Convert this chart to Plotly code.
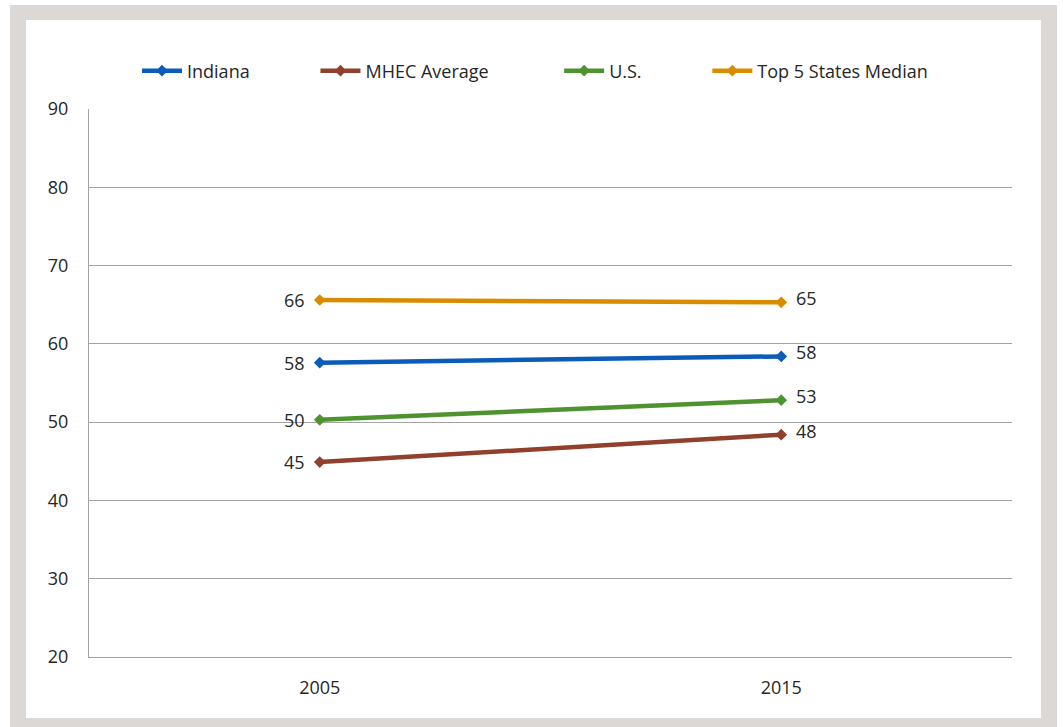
import plotly.graph_objects as go

years = ["2005", "2015"]
series_names = ["Indiana", "MHEC Average", "U.S.", "Top 5 States Median"]
indiana = [57.6, 58.4]
mhec = [44.9, 48.4]
us = [50.3, 52.8]
top5 = [65.6, 65.3]
label_indiana = ["58", "58"]
label_mhec = ["45", "48"]
label_us = ["50", "53"]
label_top5 = ["66", "65"]
y_ticks = [20, 30, 40, 50, 60, 70, 80, 90]

colors = ["#0a5cb8", "#90402d", "#4f9330", "#d98c00"]
values = [indiana, mhec, us, top5]
labels = [label_indiana, label_mhec, label_us, label_top5]

FONT = "Open Sans"
FS = 18
TXT = "#262626"
PADS = [13, 14, 13, 0]

fig = go.Figure()
for name, vals, col, pad in zip(series_names, values, colors, PADS):
    fig.add_trace(go.Scatter(
        x=years, y=vals, name=name + "\u00a0" * pad,
        mode="lines+markers",
        line=dict(color=col, width=4.5),
        marker=dict(symbol="diamond", size=9, color=col),
    ))

annotations = []
for vals, labs in zip(values, labels):
    for i, (v, t) in enumerate(zip(vals, labs)):
        annotations.append(dict(
            x=i, y=v, xref="x", yref="y", text=t, showarrow=False,
            xanchor="right" if i == 0 else "left",
            xshift=-13 if i == 0 else 13,
            yshift=0 if i == 0 else 4,
            font=dict(family=FONT, size=FS, color=TXT),
        ))

# frame (pixel -> paper conversion)
L, R, T, B = 89, 1012, 109, 657
def px(x):
    return (x - L) / (R - L)
def py(y):
    return (B - y) / (B - T)

shapes = [
    dict(type="rect", xref="paper", yref="paper", layer="below",
         x0=px(10), x1=px(1057), y0=py(740), y1=py(5),
         fillcolor="#dcd8d5", line=dict(width=0)),
    dict(type="rect", xref="paper", yref="paper", layer="below",
         x0=px(26), x1=px(1041), y0=py(718), y1=py(20),
         fillcolor="#ffffff", line=dict(width=0)),
]

fig.update_layout(
    width=1063, height=727,
    margin=dict(l=L, r=1063 - R, t=T, b=727 - B),
    paper_bgcolor="white", plot_bgcolor="white",
    font=dict(family=FONT, size=FS, color=TXT),
    showlegend=True,
    legend=dict(orientation="h", x=px(137), xanchor="left", y=py(71), yanchor="middle",
                font=dict(family=FONT, size=FS, color=TXT),
                itemwidth=40, bgcolor="rgba(0,0,0,0)"),
    xaxis=dict(type="category", range=[-0.5, 1.5], showgrid=False,
               showline=True, linecolor="#a3a3a3", linewidth=1,
               zeroline=False, ticks="", ticklabelstandoff=14,
               tickfont=dict(family=FONT, size=FS, color=TXT)),
    yaxis=dict(range=[20, 90], tickvals=y_ticks, showgrid=True,
               gridcolor="#a3a3a3", gridwidth=1, showline=True, linecolor="#a3a3a3",
               linewidth=1, zeroline=False, ticks="", ticklabelstandoff=16,
               tickfont=dict(family=FONT, size=FS, color=TXT)),
    annotations=annotations,
    shapes=shapes,
)

fig.write_html("out.html", config={"displayModeBar": False},
               post_script="document.body.style.margin='0';")
